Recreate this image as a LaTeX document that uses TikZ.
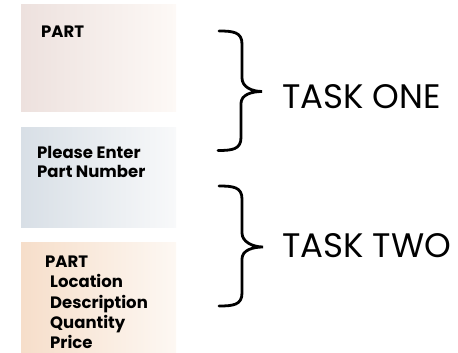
\documentclass[tikz,border=0pt]{standalone}
\usepackage{fontspec}
\setmainfont{Poppins}
\usetikzlibrary{positioning}

\definecolor{partL}{RGB}{237,225,222}
\definecolor{partR}{RGB}{253,249,246}
\definecolor{enterL}{RGB}{216,223,230}
\definecolor{enterR}{RGB}{248,249,250}
\definecolor{detL}{RGB}{246,222,202}
\definecolor{detR}{RGB}{253,248,243}

\begin{document}
\begin{tikzpicture}[
    x=1pt, y=-1pt,
    screen/.style={rectangle, minimum width=155pt, anchor=north west,
        inner sep=0pt},
    item/.style={anchor=base west, font=\bfseries\fontsize{16.5}{19}\selectfont,
        inner sep=0pt},
    task/.style={anchor=base west, font=\fontsize{34}{38}\selectfont, inner sep=0pt},
    curly/.style={line width=2.8pt, line cap=round},
]
\useasboundingbox (0,0) rectangle (458,353);

% ---- Screens ----
\node[screen, minimum height=107pt, left color=partL, right color=partR]
    (partbox) at (21,4) {};
\node[screen, minimum height=100pt, left color=enterL, right color=enterR]
    (enterbox) at (21,127) {};
\node[screen, minimum height=115pt, left color=detL, right color=detR]
    (detailbox) at (21,242) {};

% ---- Screen texts ----
\node[item] (partlbl) at (41,38) {PART};
\node[item] (enterlbl) at (37,158) {Please Enter};
\node[item] (numlbl) at (37,177.5) {Part Number};
\node[item] (detlbl) at (45,267) {PART};
\node[item] (loclbl) at (50,287.5) {Location};
\node[item] (desclbl) at (50,308) {Description};
\node[item] (qtylbl) at (50,328) {Quantity};
\node[item] (pricelbl) at (50,348.5) {Price};

% ---- Braces and tasks ----
\coordinate (onetop) at (219,31);
\coordinate (onetip) at (262,91.5);
\coordinate (twotop) at (219,186);
\coordinate (twotip) at (263,247);
\foreach \t in {one,two}{
  \draw[curly] (\t top) .. controls +(14,0) and +(0,-12) .. ++(23,13)
    -- ++(0,34) .. controls +(0,9) and +(-10,0) .. (\t tip)
    .. controls +(-10,0) and +(0,-9) .. ++(-21,12)
    -- ++(0,34) .. controls +(0,12) and +(14,0) .. ++(-23,13);
}

\node[task] (taskone) at (282,108) {TASK ONE};
\node[task] (tasktwo) at (282,257) {TASK TWO};

\end{tikzpicture}
\end{document}
